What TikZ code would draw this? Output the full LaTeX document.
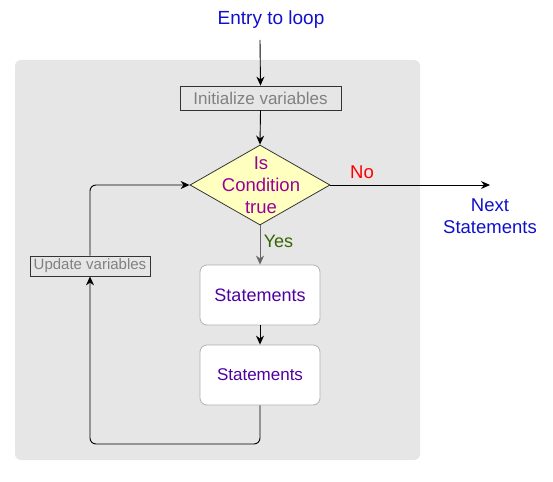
\documentclass[tikz,border=0pt]{standalone}
\usepackage{fontspec}
\setmainfont{Liberation Sans}
\usetikzlibrary{arrows.meta,shapes.geometric}
\definecolor{bgray}{HTML}{E6E6E6}
\definecolor{tblue}{HTML}{1010CC}
\definecolor{tpurple}{HTML}{990099}
\definecolor{tviolet}{HTML}{5000A0}
\definecolor{tgreen}{HTML}{336600}
\definecolor{tgray}{HTML}{808080}
\definecolor{dfill}{HTML}{FFFFC0}
\tikzset{
  fs/.style={font=\fontsize{#1}{22}\selectfont},
  arr/.style={-{Stealth[length=9pt,width=8pt]}, line width=0.9pt},
  varbox/.style={draw=black!80, fill=bgray, text=tgray, inner sep=0pt, line width=0.8pt},
  stmbox/.style={draw=black!30, fill=white, rounded corners=7pt, minimum width=120pt, minimum height=60pt, text=tviolet, inner sep=0pt, line width=0.8pt},
}
\begin{document}
\begin{tikzpicture}[x=1pt,y=-1pt]
\useasboundingbox (0,0) rectangle (553,481);
\fill[bgray, rounded corners=6pt] (15,60) rectangle (420,460);
\node[fs=19, text=tblue] (entry) at (271,20) {Entry to loop};
\coordinate (ein) at (260,40);
\node[varbox, minimum width=161pt, minimum height=24pt, fs=17] (init) at (260.5,98) {Initialize variables};
\node[diamond, draw=black!80, fill=dfill, minimum width=140pt, minimum height=80pt, inner sep=0pt, line width=0.8pt] (cond) at (260,185) {};
\node[fs=18.5, text=tpurple, align=center] at (261,185.5) {Is\\Condition\\true};
\node[stmbox, fs=18] (s1) at (260,295) {Statements};
\node[stmbox, fs=17] (s2) at (260,375) {Statements};
\node[varbox, minimum width=120pt, minimum height=20pt, fs=15] (upd) at (90,266) {Update variables};
\coordinate (nout) at (490,185);
\node[fs=18.5, text=tblue, align=center] (next) at (490,216) {Next\\Statements};
\node[fs=18.5, text=red] (no) at (362,172) {No};
\node[fs=18, text=tgreen] (yes) at (278.5,241) {Yes};
\coordinate (bl) at (260,444);
\coordinate (br) at (90,444);
\coordinate (tl) at (90,185);
\draw[arr] (ein) -- (init.north);
\draw[arr] (init.south) -- (cond.north);
\draw[arr] (cond.east) -- (nout);
\draw[arr, draw=black!60] (cond.south) -- (s1.north);
\draw[arr] (s1.south) -- (s2.north);
\draw[arr, rounded corners=6pt] (s2.south) -- (bl) -- (br) -- (upd.south);
\draw[arr, rounded corners=6pt] (upd.north) -- (tl) -- (cond.west);
\end{tikzpicture}
\end{document}
